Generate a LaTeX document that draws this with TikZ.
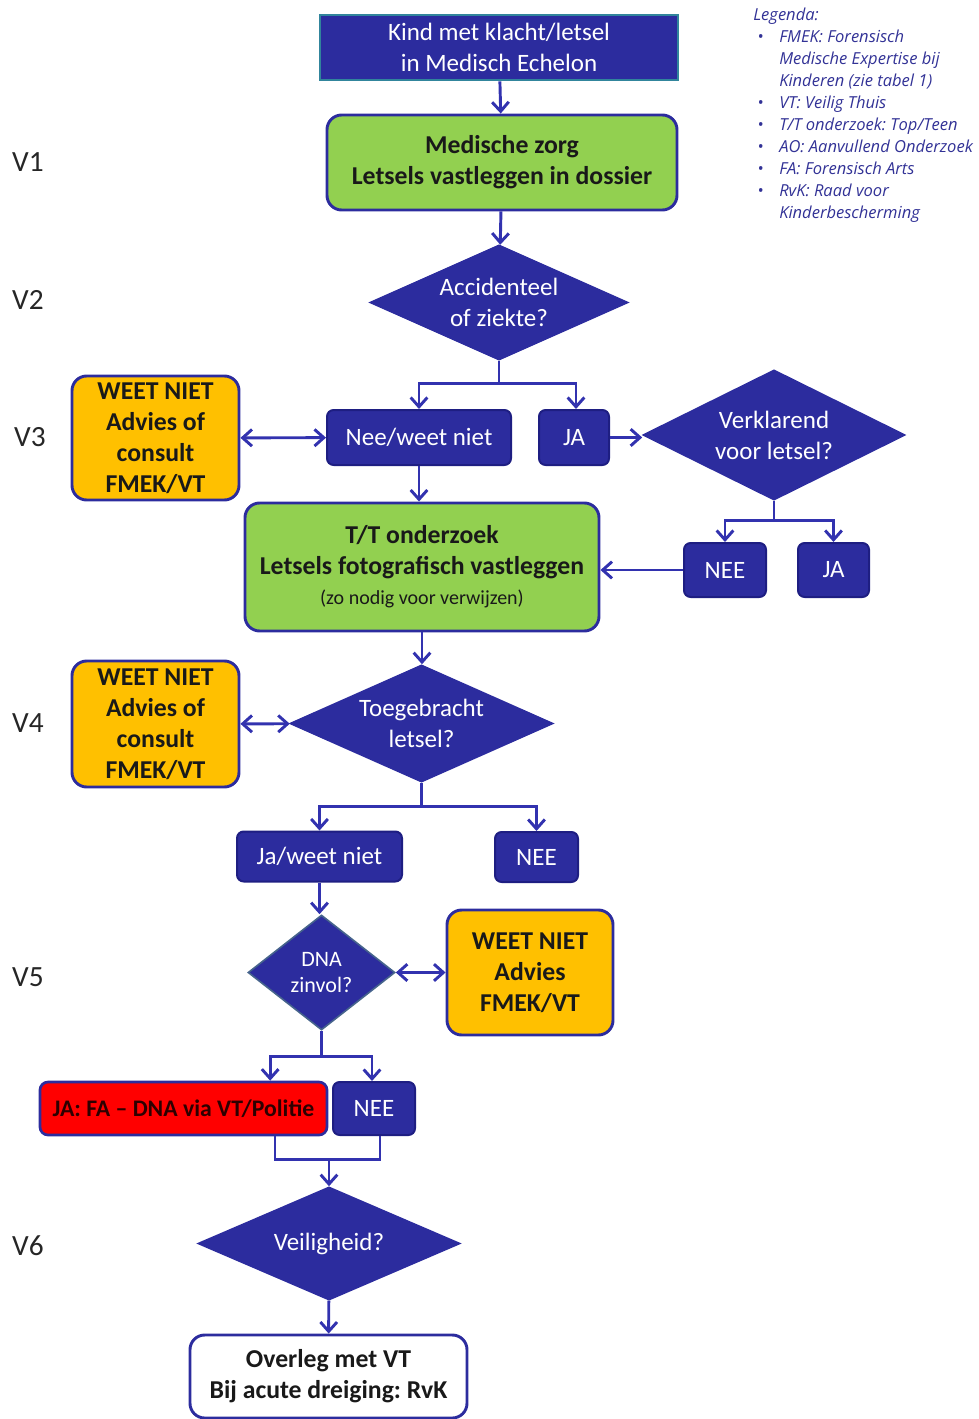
\documentclass[tikz,border=0pt]{standalone}
\usepackage{fontspec}
\setmainfont{Carlito}
\newfontfamily\legfont{Open Sans}
\usetikzlibrary{shapes.geometric,arrows.meta}
\frenchspacing
\definecolor{navy}{RGB}{44,44,158}
\definecolor{navyd}{RGB}{30,30,130}
\definecolor{arr}{RGB}{50,50,175}
\definecolor{tealb}{RGB}{49,133,156}
\definecolor{lgreen}{RGB}{146,208,80}
\definecolor{orng}{RGB}{255,192,0}
\definecolor{legc}{RGB}{50,50,150}
\definecolor{dtxt}{RGB}{25,25,25}
\definecolor{redtxt}{RGB}{45,0,0}
\definecolor{dnab}{RGB}{70,100,140}
\newcommand\fbig{\fontsize{18.75}{23.25}\selectfont}
\newcommand\fbold{\fontsize{19.3}{23.25}\selectfont\bfseries}
\tikzset{
  bluebox/.style={rectangle, rounded corners=5pt, fill=navy, draw=navyd, line width=1.5pt, text=white, font=\fbig, align=center, inner sep=0pt},
  greenbox/.style={rectangle, rounded corners=11pt, fill=lgreen, draw=navy, line width=2.2pt, text=dtxt, font=\fbold, align=center, inner sep=0pt},
  orangebox/.style={rectangle, rounded corners=11pt, fill=orng, draw=navy, line width=2.2pt, text=dtxt, font=\fbold, align=center, inner sep=0pt},
  dia/.style={diamond, fill=navy, draw=navy, line width=1.2pt, text=white, font=\fbig, align=center, inner sep=0pt},
  vlab/.style={font=\fontsize{22}{26}\selectfont, text=black!85},
  line/.style={draw=arr, line width=2.2pt},
  conn/.style={line, -{Straight Barb[length=7pt,width=12.5pt]}},
  conn2/.style={line, {Straight Barb[length=7pt,width=12.5pt]}-{Straight Barb[length=7pt,width=12.5pt]}},
}
\begin{document}
\begin{tikzpicture}[x=0.75pt,y=-0.75pt]
\useasboundingbox (0,0) rectangle (978,1419);

% V labels
\node[vlab] (v1) at (28,162) {V1};
\node[vlab] (v2) at (28,300) {V2};
\node[vlab] (v3) at (30,437) {V3};
\node[vlab] (v4) at (28,723) {V4};
\node[vlab] (v5) at (28,977) {V5};
\node[vlab] (v6) at (28,1246) {V6};

% legend
\node[anchor=base west, inner sep=0pt, text=legc, font=\legfont\itshape\fontsize{12.4}{16.5}\selectfont, align=left] (leg) at (753,21)
{\begin{tabular}[t]{@{}l@{}}
Legenda:\\
\hspace*{3pt}\makebox[16.5pt][l]{\textbullet}FMEK: Forensisch\\
\hspace*{19.5pt}Medische Expertise bij\\
\hspace*{19.5pt}Kinderen (zie tabel 1)\\
\hspace*{3pt}\makebox[16.5pt][l]{\textbullet}VT: Veilig Thuis\\
\hspace*{3pt}\makebox[16.5pt][l]{\textbullet}T/T onderzoek: Top/Teen\\
\hspace*{3pt}\makebox[16.5pt][l]{\textbullet}AO: Aanvullend Onderzoek\\
\hspace*{3pt}\makebox[16.5pt][l]{\textbullet}FA: Forensisch Arts\\
\hspace*{3pt}\makebox[16.5pt][l]{\textbullet}RvK: Raad voor\\
\hspace*{19.5pt}Kinderbescherming
\end{tabular}};

% nodes
\node[rectangle, fill=navy, draw=tealb, line width=2pt, text=white, font=\fbig, align=center, inner sep=0pt,
      minimum width=268.5pt, minimum height=48.75pt] (top) at (499,47.5) {Kind met klacht/letsel\\in Medisch Echelon};
\node[greenbox, minimum width=262.5pt, minimum height=71.25pt] (med) at (502,162.5) {Medische zorg\\Letsels vastleggen in dossier};
\node[dia, shape aspect=2.24, minimum width=193.5pt, minimum height=86.25pt] (acc) at (499,302.5) {Accidenteel\\of ziekte?};
\node[bluebox, minimum width=138pt, minimum height=41.25pt] (nee) at (419,437.5) {Nee/weet niet};
\node[bluebox, minimum width=52.5pt, minimum height=41.25pt] (ja1) at (574,437.5) {JA};
\node[orangebox, minimum width=125.25pt, minimum height=93pt] (wn1) at (155.5,438) {WEET NIET\\Advies of\\consult\\FMEK/VT};
\node[dia, shape aspect=2.0, minimum width=196.5pt, minimum height=97.5pt] (ver) at (774,435) {Verklarend\\voor letsel?};
\node[bluebox, minimum width=61.5pt, minimum height=40.5pt] (nee2) at (725,570) {NEE};
\node[bluebox, minimum width=53.25pt, minimum height=40.5pt] (ja2) at (833.5,570) {JA};
\node[greenbox, minimum width=265.5pt, minimum height=96pt] (tt) at (422,567) {T/T onderzoek\\Letsels fotografisch vastleggen\\[-1pt]{\mdseries\fontsize{15}{17}\selectfont(zo nodig voor verwijzen)}};
\node[dia, shape aspect=2.25, minimum width=197.25pt, minimum height=87.75pt] (toe) at (421.5,723.5) {Toegebracht\\letsel?};
\node[orangebox, minimum width=125.25pt, minimum height=94.5pt] (wn2) at (155.5,724) {WEET NIET\\Advies of\\consult\\FMEK/VT};
\node[bluebox, minimum width=123.75pt, minimum height=37.5pt] (jwn) at (319.5,856.5) {Ja/weet niet};
\node[bluebox, minimum width=62.25pt, minimum height=37.5pt] (nee3) at (536.5,857) {NEE};
\node[dia, shape aspect=1.28, draw=dnab, font=\fontsize{16.5}{20}\selectfont, minimum width=110.25pt, minimum height=86.25pt] (dna) at (321.5,972.5) {DNA\\zinvol?};
\node[orangebox, minimum width=124.5pt, minimum height=93.75pt] (wn3) at (530,972.5) {WEET NIET\\Advies\\FMEK/VT};
\node[rectangle, rounded corners=6pt, fill=red, draw=navy, line width=2pt, text=redtxt, font=\fontsize{17.8}{20}\selectfont\bfseries, inner sep=0pt,
      minimum width=215.25pt, minimum height=39.75pt] (red) at (183.5,1108.5) {JA: FA -- DNA via VT/Politie};
\node[bluebox, minimum width=61.5pt, minimum height=39.75pt] (nee4) at (374,1108.5) {NEE};
\node[dia, shape aspect=2.32, minimum width=196.5pt, minimum height=84.75pt] (vei) at (329,1243.5) {Veiligheid?};
\node[rectangle, rounded corners=11pt, fill=white, draw=navy, line width=2.2pt, text=dtxt, font=\fbold, align=center, inner sep=0pt,
      minimum width=207.75pt, minimum height=62.25pt] (ovl) at (328.5,1376.5) {Overleg met VT\\Bij acute dreiging: RvK};

% connectors
\draw[conn] (top) -- (med);
\draw[conn] (med) -- (acc);
\draw[line] (acc.south) -- ++(0,23) coordinate (b1);
\draw[conn] (b1) -| (nee.north);
\draw[conn] (b1) -| ([xshift=1.5pt]ja1.north);
\draw[conn2] (wn1) -- (nee);
\draw[conn] (ja1.east) -- (ja1.east -| ver.west);
\draw[line] (ver.south) -- ++(0,20) coordinate (b2);
\draw[conn] (b2) -| (nee2.north);
\draw[conn] (b2) -| (ja2.north);
\draw[conn] (nee2.west) -- (nee2.west -| tt.east);
\draw[conn] (nee.south) -- (nee.south |- tt.north);
\draw[conn] (tt.south) -- (tt.south |- toe.north);
\draw[conn2] (wn2) -- (toe);
\draw[line] (toe.south) -- ++(0,24) coordinate (b3);
\draw[conn] (b3) -| (jwn.north);
\draw[conn] (b3) -| (nee3.north);
\draw[conn] (jwn.south) -- (jwn.south |- dna.north);
\draw[conn2] (dna) -- (wn3);
\draw[line] (dna.south) -- ++(0,26) coordinate (b4);
\draw[conn] (b4) -| ([xshift=65pt]red.north);
\draw[conn] (b4) -| ([xshift=-1.5pt]nee4.north);
\draw[line] ([xshift=68.6pt]red.south) -- ++(0,23) coordinate (b5) -| ([xshift=4.5pt]nee4.south);
\draw[conn] (b5 -| vei.north) -- (vei.north);
\draw[conn] (vei) -- (ovl);
\end{tikzpicture}
\end{document}
